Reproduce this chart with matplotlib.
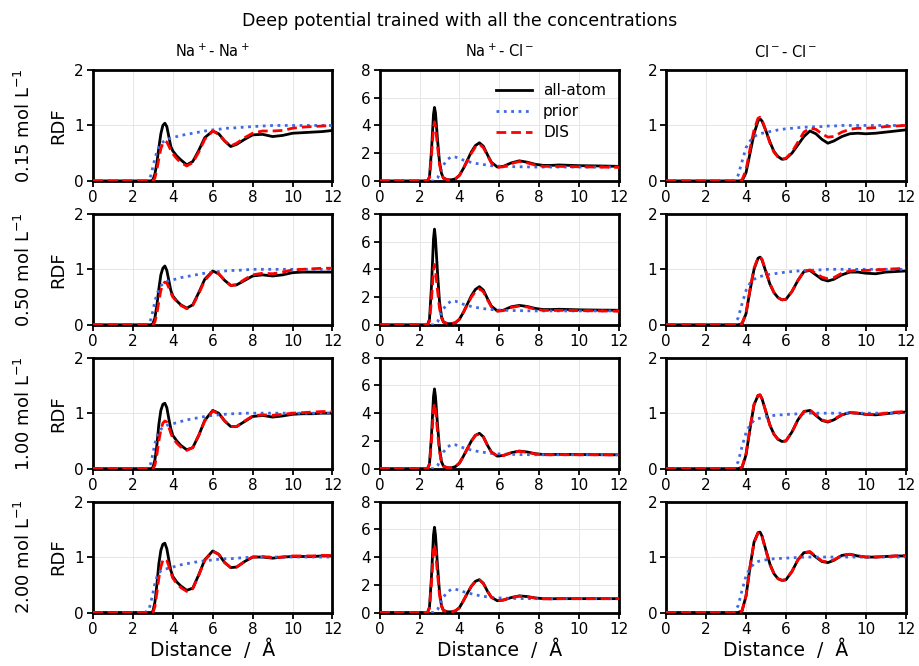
import numpy as np
import matplotlib
matplotlib.use("Agg")
import matplotlib.pyplot as plt

# ---------- data (RDF vs distance, Å) ----------
CONCS = ["0.15", "0.50", "1.00", "2.00"]
PAIRS = ["Na$^+$- Na$^+$", "Na$^+$- Cl$^-$", "Cl$^-$- Cl$^-$"]

X_NN = [0, 2.6, 2.8, 2.9, 3.0, 3.1, 3.2, 3.3, 3.4, 3.5, 3.6, 3.7, 3.8, 3.9, 4.0, 4.2, 4.4, 4.7,
        5.0, 5.3, 5.6, 6.0, 6.3, 6.6, 6.9, 7.2, 7.6, 8.0, 8.5, 9.0, 9.5, 10.0, 10.5, 11.0, 11.5, 12.0]
nana_aa = [
    [0, 0, 0, 0, 0.02, 0.12, 0.32, 0.6, 0.85, 1.0, 1.04, 0.98, 0.8, 0.62, 0.54, 0.45, 0.38, 0.29,
     0.35, 0.55, 0.78, 0.90, 0.85, 0.72, 0.62, 0.66, 0.75, 0.83, 0.84, 0.80, 0.82, 0.86, 0.87, 0.88, 0.89, 0.91],
    [0, 0, 0, 0, 0.02, 0.12, 0.35, 0.65, 0.9, 1.02, 1.06, 0.98, 0.8, 0.62, 0.52, 0.43, 0.36, 0.30,
     0.36, 0.58, 0.82, 0.97, 0.92, 0.8, 0.71, 0.72, 0.8, 0.88, 0.9, 0.88, 0.9, 0.94, 0.95, 0.95, 0.95, 0.95],
    [0, 0, 0, 0, 0.02, 0.15, 0.42, 0.8, 1.05, 1.16, 1.18, 1.1, 0.9, 0.72, 0.6, 0.5, 0.42, 0.34,
     0.38, 0.6, 0.87, 1.05, 1.0, 0.86, 0.76, 0.76, 0.85, 0.94, 0.96, 0.93, 0.95, 0.98, 0.99, 0.99, 1.0, 1.0],
    [0, 0, 0, 0, 0.02, 0.18, 0.5, 0.88, 1.12, 1.23, 1.25, 1.15, 0.95, 0.76, 0.65, 0.55, 0.48, 0.4,
     0.44, 0.68, 0.95, 1.11, 1.05, 0.9, 0.81, 0.82, 0.92, 1.0, 1.0, 0.98, 1.0, 1.01, 1.01, 1.01, 1.02, 1.02],
]
nana_prior = [
    [0, 0, 0.02, 0.1, 0.25, 0.4, 0.52, 0.6, 0.66, 0.7, 0.73, 0.75, 0.76, 0.77, 0.78, 0.8, 0.82, 0.84,
     0.86, 0.88, 0.9, 0.92, 0.93, 0.95, 0.95, 0.96, 0.97, 0.98, 0.99, 1.0, 1.0, 1.0, 1.0, 1.0, 1.0, 1.0],
    [0, 0, 0.02, 0.1, 0.25, 0.42, 0.55, 0.64, 0.7, 0.74, 0.77, 0.78, 0.79, 0.8, 0.81, 0.83, 0.85, 0.87,
     0.89, 0.91, 0.93, 0.95, 0.96, 0.97, 0.98, 0.98, 0.99, 1.0, 1.0, 1.0, 1.0, 1.0, 1.0, 1.0, 1.0, 1.0],
    [0, 0, 0.02, 0.1, 0.27, 0.45, 0.58, 0.66, 0.71, 0.74, 0.76, 0.78, 0.79, 0.8, 0.81, 0.83, 0.85, 0.88,
     0.9, 0.92, 0.94, 0.96, 0.97, 0.98, 0.99, 0.99, 1.0, 1.0, 1.0, 1.0, 1.0, 1.0, 1.0, 1.0, 1.0, 1.0],
    [0, 0, 0.05, 0.18, 0.35, 0.52, 0.64, 0.71, 0.75, 0.77, 0.78, 0.79, 0.8, 0.81, 0.82, 0.84, 0.86, 0.88,
     0.9, 0.92, 0.93, 0.95, 0.96, 0.97, 0.97, 0.98, 0.99, 1.0, 1.0, 1.0, 1.0, 1.0, 1.0, 1.0, 1.0, 1.0],
]
nana_dis = [
    [0, 0, 0, 0, 0.0, 0.05, 0.2, 0.4, 0.58, 0.68, 0.72, 0.7, 0.63, 0.55, 0.49, 0.4, 0.33, 0.27,
     0.33, 0.52, 0.75, 0.90, 0.84, 0.72, 0.63, 0.68, 0.78, 0.86, 0.90, 0.90, 0.91, 0.95, 0.97, 0.98, 0.99, 1.0],
    [0, 0, 0, 0, 0, 0.05, 0.2, 0.42, 0.62, 0.73, 0.77, 0.75, 0.67, 0.58, 0.5, 0.42, 0.35, 0.29,
     0.35, 0.56, 0.8, 0.96, 0.92, 0.8, 0.71, 0.72, 0.82, 0.9, 0.93, 0.92, 0.95, 0.99, 1.0, 1.01, 1.02, 1.02],
    [0, 0, 0, 0, 0, 0.06, 0.25, 0.5, 0.7, 0.82, 0.86, 0.84, 0.75, 0.64, 0.55, 0.46, 0.39, 0.33,
     0.38, 0.6, 0.86, 1.04, 0.99, 0.86, 0.76, 0.76, 0.86, 0.95, 0.97, 0.96, 0.98, 1.0, 1.01, 1.02, 1.03, 1.03],
    [0, 0, 0, 0, 0, 0.1, 0.35, 0.62, 0.82, 0.94, 0.97, 0.94, 0.84, 0.72, 0.62, 0.52, 0.45, 0.38,
     0.43, 0.67, 0.94, 1.1, 1.05, 0.9, 0.81, 0.82, 0.92, 1.0, 1.01, 0.99, 1.0, 1.02, 1.02, 1.02, 1.03, 1.03],
]

X_NC = [0, 2.3, 2.4, 2.5, 2.6, 2.7, 2.75, 2.8, 2.9, 3.0, 3.1, 3.2, 3.4, 3.6, 3.8, 4.0, 4.2, 4.4,
        4.6, 4.8, 5.0, 5.2, 5.4, 5.6, 5.9, 6.2, 6.6, 7.0, 7.4, 7.8, 8.2, 8.6, 9.0, 10.0, 11.0, 12.0]
nacl_aa = [
    [0, 0, 0, 0.3, 2.2, 4.8, 5.3, 4.9, 3.0, 1.4, 0.55, 0.2, 0.08, 0.08, 0.15, 0.4, 0.9, 1.5,
     2.1, 2.55, 2.75, 2.5, 1.9, 1.35, 1.0, 1.05, 1.3, 1.45, 1.35, 1.2, 1.12, 1.12, 1.15, 1.1, 1.08, 1.05],
    [0, 0, 0, 0.4, 2.8, 6.2, 6.9, 6.2, 3.8, 1.7, 0.6, 0.2, 0.08, 0.08, 0.15, 0.4, 0.9, 1.5,
     2.1, 2.55, 2.75, 2.5, 1.9, 1.35, 1.0, 1.05, 1.3, 1.4, 1.32, 1.18, 1.1, 1.1, 1.12, 1.08, 1.06, 1.05],
    [0, 0, 0, 0.35, 2.4, 5.2, 5.75, 5.2, 3.2, 1.45, 0.5, 0.18, 0.06, 0.06, 0.15, 0.4, 0.9, 1.45,
     2.0, 2.4, 2.55, 2.3, 1.7, 1.2, 0.9, 0.95, 1.15, 1.27, 1.2, 1.08, 1.02, 1.02, 1.03, 1.02, 1.01, 1.0],
    [0, 0, 0, 0.4, 2.6, 5.6, 6.15, 5.6, 3.4, 1.5, 0.5, 0.15, 0.05, 0.05, 0.12, 0.35, 0.85, 1.4,
     1.9, 2.25, 2.37, 2.1, 1.55, 1.1, 0.85, 0.9, 1.08, 1.2, 1.15, 1.05, 1.0, 0.99, 1.0, 1.0, 1.0, 1.0],
]
nacl_prior = [
    [0, 0, 0, 0, 0, 0, 0.01, 0.05, 0.2, 0.5, 0.85, 1.15, 1.55, 1.75, 1.72, 1.62, 1.5, 1.42,
     1.33, 1.27, 1.22, 1.18, 1.14, 1.1, 1.07, 1.05, 1.03, 1.02, 1.01, 1.0, 1.0, 1.0, 1.0, 1.0, 1.0, 1.0],
    [0, 0, 0, 0, 0, 0, 0.01, 0.05, 0.2, 0.5, 0.85, 1.15, 1.52, 1.72, 1.7, 1.6, 1.48, 1.4,
     1.32, 1.26, 1.21, 1.17, 1.13, 1.1, 1.07, 1.05, 1.03, 1.02, 1.01, 1.0, 1.0, 1.0, 1.0, 1.0, 1.0, 1.0],
    [0, 0, 0, 0, 0, 0, 0.01, 0.05, 0.2, 0.5, 0.9, 1.2, 1.55, 1.75, 1.72, 1.62, 1.5, 1.42,
     1.34, 1.28, 1.22, 1.18, 1.14, 1.1, 1.07, 1.05, 1.03, 1.02, 1.01, 1.0, 1.0, 1.0, 1.0, 1.0, 1.0, 1.0],
    [0, 0, 0, 0, 0, 0, 0.01, 0.05, 0.2, 0.5, 0.85, 1.12, 1.48, 1.68, 1.68, 1.6, 1.5, 1.42,
     1.35, 1.28, 1.22, 1.17, 1.13, 1.1, 1.06, 1.04, 1.02, 1.01, 1.0, 1.0, 1.0, 1.0, 1.0, 1.0, 1.0, 1.0],
]
nacl_dis = [
    [0, 0, 0, 0.25, 1.8, 3.9, 4.25, 3.9, 2.5, 1.2, 0.5, 0.2, 0.08, 0.08, 0.15, 0.4, 0.9, 1.45,
     2.0, 2.45, 2.65, 2.4, 1.85, 1.3, 0.98, 1.02, 1.25, 1.4, 1.3, 1.15, 1.05, 1.05, 1.05, 1.02, 1.0, 0.98],
    [0, 0, 0, 0.25, 1.8, 3.95, 4.35, 3.95, 2.5, 1.2, 0.5, 0.2, 0.08, 0.08, 0.15, 0.4, 0.9, 1.45,
     2.0, 2.4, 2.6, 2.38, 1.82, 1.3, 0.98, 1.02, 1.25, 1.35, 1.28, 1.12, 1.04, 1.03, 1.04, 1.02, 1.0, 0.98],
    [0, 0, 0, 0.3, 2.0, 4.25, 4.7, 4.25, 2.7, 1.25, 0.45, 0.17, 0.06, 0.06, 0.15, 0.4, 0.9, 1.45,
     2.0, 2.4, 2.5, 2.28, 1.7, 1.2, 0.9, 0.95, 1.15, 1.25, 1.18, 1.06, 1.0, 1.0, 1.01, 1.0, 1.0, 0.99],
    [0, 0, 0, 0.32, 2.1, 4.45, 4.9, 4.45, 2.8, 1.3, 0.45, 0.14, 0.05, 0.05, 0.12, 0.35, 0.85, 1.4,
     1.9, 2.25, 2.35, 2.1, 1.55, 1.1, 0.85, 0.9, 1.08, 1.18, 1.13, 1.04, 0.99, 0.99, 1.0, 1.0, 1.0, 1.0],
]

X_CC = [0, 3.4, 3.6, 3.8, 4.0, 4.2, 4.4, 4.6, 4.7, 4.8, 5.0, 5.2, 5.4, 5.6, 5.8, 6.0, 6.3, 6.6,
        6.9, 7.2, 7.5, 7.8, 8.1, 8.4, 8.8, 9.2, 9.6, 10.0, 10.5, 11.0, 11.5, 12.0]
clcl_aa = [
    [0, 0, 0, 0, 0.15, 0.5, 0.85, 1.08, 1.12, 1.08, 0.9, 0.7, 0.53, 0.44, 0.39, 0.4, 0.5, 0.65,
     0.8, 0.9, 0.85, 0.75, 0.68, 0.72, 0.8, 0.85, 0.86, 0.85, 0.86, 0.88, 0.9, 0.92],
    [0, 0, 0, 0.02, 0.2, 0.62, 1.0, 1.2, 1.22, 1.17, 0.95, 0.73, 0.58, 0.49, 0.45, 0.46, 0.6, 0.8,
     0.96, 0.98, 0.9, 0.82, 0.79, 0.82, 0.9, 0.95, 0.95, 0.93, 0.92, 0.95, 0.96, 0.97],
    [0, 0, 0, 0.02, 0.25, 0.72, 1.15, 1.32, 1.33, 1.26, 1.02, 0.78, 0.62, 0.53, 0.49, 0.5, 0.66, 0.88,
     1.03, 1.05, 0.96, 0.87, 0.84, 0.88, 0.97, 1.01, 1.0, 0.98, 0.97, 0.99, 1.01, 1.02],
    [0, 0, 0, 0.03, 0.3, 0.82, 1.27, 1.44, 1.45, 1.38, 1.12, 0.87, 0.7, 0.61, 0.58, 0.59, 0.74, 0.95,
     1.08, 1.09, 1.0, 0.92, 0.9, 0.94, 1.03, 1.05, 1.02, 1.0, 1.0, 1.01, 1.02, 1.02],
]
clcl_prior = [
    [0, 0, 0.1, 0.35, 0.6, 0.72, 0.8, 0.84, 0.85, 0.86, 0.87, 0.89, 0.9, 0.92, 0.93, 0.94, 0.95, 0.96,
     0.97, 0.97, 0.98, 0.98, 0.99, 0.99, 1.0, 1.0, 1.0, 1.0, 1.0, 1.0, 1.0, 1.0],
    [0, 0, 0.12, 0.38, 0.62, 0.75, 0.82, 0.86, 0.87, 0.88, 0.9, 0.91, 0.92, 0.93, 0.94, 0.95, 0.96, 0.97,
     0.98, 0.98, 0.99, 0.99, 1.0, 1.0, 1.0, 1.0, 1.0, 1.0, 1.0, 1.0, 1.0, 1.0],
    [0, 0, 0.12, 0.4, 0.65, 0.79, 0.87, 0.9, 0.91, 0.92, 0.94, 0.95, 0.96, 0.97, 0.97, 0.98, 0.98, 0.99,
     0.99, 1.0, 1.0, 1.0, 1.0, 1.0, 1.0, 1.0, 1.0, 1.0, 1.0, 1.0, 1.0, 1.0],
    [0, 0, 0.12, 0.4, 0.66, 0.8, 0.88, 0.92, 0.93, 0.94, 0.95, 0.96, 0.97, 0.97, 0.98, 0.98, 0.99, 0.99,
     1.0, 1.0, 1.0, 1.0, 1.0, 1.0, 1.0, 1.0, 1.0, 1.0, 1.0, 1.0, 1.0, 1.0],
]
clcl_dis = [
    [0, 0, 0, 0.02, 0.2, 0.58, 0.92, 1.13, 1.15, 1.1, 0.9, 0.68, 0.52, 0.43, 0.39, 0.41, 0.52, 0.7,
     0.88, 0.95, 0.93, 0.85, 0.79, 0.8, 0.88, 0.93, 0.95, 0.95, 0.96, 0.98, 0.99, 1.0],
    [0, 0, 0, 0.02, 0.22, 0.64, 1.02, 1.21, 1.23, 1.18, 0.96, 0.74, 0.58, 0.49, 0.45, 0.46, 0.6, 0.8,
     0.96, 0.99, 0.93, 0.86, 0.83, 0.85, 0.93, 0.97, 0.98, 0.98, 0.99, 1.0, 1.01, 1.02],
    [0, 0, 0, 0.03, 0.27, 0.74, 1.16, 1.32, 1.33, 1.26, 1.02, 0.78, 0.62, 0.53, 0.49, 0.5, 0.66, 0.88,
     1.03, 1.06, 0.97, 0.88, 0.85, 0.89, 0.97, 1.01, 1.0, 0.98, 0.98, 1.0, 1.02, 1.03],
    [0, 0, 0, 0.03, 0.3, 0.82, 1.26, 1.43, 1.44, 1.37, 1.11, 0.86, 0.7, 0.61, 0.58, 0.59, 0.74, 0.95,
     1.08, 1.1, 1.01, 0.93, 0.91, 0.95, 1.03, 1.05, 1.02, 1.0, 1.0, 1.01, 1.02, 1.03],
]

COLS = [(X_NN, nana_aa, nana_prior, nana_dis, 2, [0, 1, 2]),
        (X_NC, nacl_aa, nacl_prior, nacl_dis, 8, [0, 2, 4, 6, 8]),
        (X_CC, clcl_aa, clcl_prior, clcl_dis, 2, [0, 1, 2])]

# ---------- figure ----------
fig, axes = plt.subplots(4, 3, figsize=(9.19, 6.66), dpi=100)
fig.subplots_adjust(left=0.1012, right=0.9855, top=0.8949, bottom=0.0803, wspace=0.197, hspace=0.297)
fig.suptitle("Deep potential trained with all the concentrations", fontsize=12.5, y=0.982)

for c, (xs, aa, pr, dis, ymax, yt) in enumerate(COLS):
    for r in range(4):
        ax = axes[r][c]
        ax.plot(xs, aa[r], color="black", lw=2, ls="-", label="all-atom", zorder=3)
        ax.plot(xs, pr[r], color="royalblue", lw=2, ls=":", label="prior", zorder=4)
        ax.plot(xs, dis[r], color="red", lw=2, ls=(0, (3.5, 1.8)), label="DIS", zorder=5)
        ax.set_xlim(0, 12); ax.set_ylim(0, ymax)
        ax.set_xticks(range(0, 13, 2)); ax.set_yticks(yt)
        ax.grid(True, color="#e3e3e3", lw=0.6)
        ax.set_axisbelow(True)
        ax.tick_params(labelsize=11, width=1.3, length=4, pad=2.5)
        for sp in ax.spines.values():
            sp.set_linewidth(2)
        if r == 0:
            ax.set_title(PAIRS[c], fontsize=10.5, pad=9)
        if r == 3:
            ax.set_xlabel("Distance  /  Å", fontsize=13.5, labelpad=2)
        if c == 0:
            ax.set_ylabel("RDF", fontsize=13, labelpad=5)
            ax.text(-0.29, 0.5, f"{CONCS[r]} mol L$^{{-1}}$", transform=ax.transAxes,
                    rotation=90, ha="center", va="center", fontsize=13)

axes[0][1].legend(loc="upper right", frameon=False, fontsize=11, handlelength=2.4,
                  borderaxespad=0.45, labelspacing=0.4, handletextpad=0.7)

fig.savefig("out.png", dpi=100)
